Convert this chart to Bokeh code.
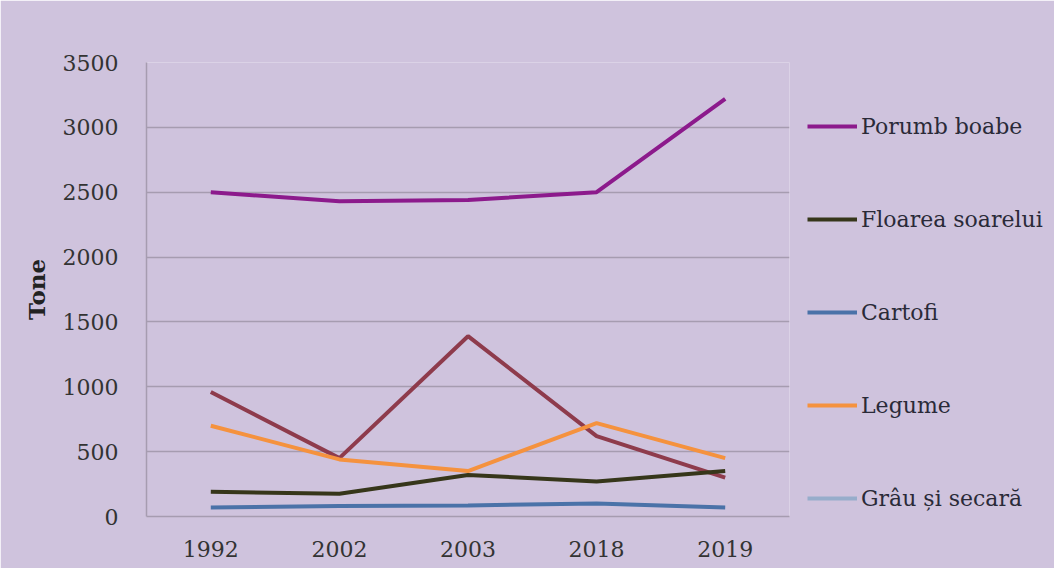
from bokeh.plotting import figure
from bokeh.models import FactorRange, Range1d, Legend, LegendItem
from bokeh.embed import file_html
from bokeh.resources import INLINE

NaN = float("nan")

# ---- data ----
years = ["1992", "2002", "2003", "2018", "2019"]
porumb_boabe = [2500, 2430, 2440, 2500, 3220]
floarea_soarelui = [190, 175, 320, 270, 350]
cartofi = [70, 80, 85, 100, 70]
legume = [700, 440, 350, 720, 450]
grau_si_secara = [NaN, NaN, NaN, NaN, NaN]  # no visible line in the chart
serie_fara_legenda = [960, 450, 1390, 620, 300]
y_ticks = [0, 500, 1000, 1500, 2000, 2500, 3000, 3500]

BG = "#CFC3DD"
GRID = "#A69CB0"
FONT = "DejaVu Serif"

p = figure(frame_width=643, frame_height=454,
           x_range=FactorRange(*years, range_padding=0),
           y_range=Range1d(0, 3500),
           output_backend="svg", toolbar_location=None,
           min_border_left=146, min_border_right=250,
           min_border_top=62, min_border_bottom=52,
           background_fill_color=BG, border_fill_color=BG)
p.outline_line_color = None

# grid
p.xgrid.grid_line_color = None
p.ygrid.grid_line_color = GRID
p.ygrid.grid_line_width = 1.5
p.yaxis.ticker = y_ticks

for ax in (p.xaxis[0], p.yaxis[0]):
    ax.axis_line_color = GRID
    ax.axis_line_width = 1.5
    ax.major_tick_line_color = None
    ax.major_tick_out = 0
    ax.major_tick_in = 0
    ax.minor_tick_line_color = None
    ax.minor_tick_out = 0
    ax.major_label_text_font = FONT
    ax.major_label_text_font_size = "22px"
    ax.major_label_text_color = "#333333"

p.yaxis.major_label_standoff = 28
p.xaxis.major_label_standoff = 24
p.yaxis.axis_label = "Tone"
p.yaxis.axis_label_text_font = FONT
p.yaxis.axis_label_text_font_size = "23px"
p.yaxis.axis_label_text_font_style = "bold"
p.yaxis.axis_label_text_color = "#222222"
p.yaxis.axis_label_standoff = 10

LW = 4
r_red = p.line(years, serie_fara_legenda, line_color="#8E3B4C", line_width=LW)
r_porumb = p.line(years, porumb_boabe, line_color="#8C1A8C", line_width=LW)
r_floarea = p.line(years, floarea_soarelui, line_color="#36361A", line_width=LW)
r_cartofi = p.line(years, cartofi, line_color="#4A72A8", line_width=LW)
r_legume = p.line(years, legume, line_color="#F5923E", line_width=LW)
r_grau = p.line(years, grau_si_secara, line_color="#97ADCB", line_width=LW)

legend = Legend(items=[
    LegendItem(label="Porumb boabe", renderers=[r_porumb]),
    LegendItem(label="Floarea soarelui", renderers=[r_floarea]),
    LegendItem(label="Cartofi", renderers=[r_cartofi]),
    LegendItem(label="Legume", renderers=[r_legume]),
    LegendItem(label="Grâu și secară", renderers=[r_grau]),
], location=(18, 3))
legend.background_fill_alpha = 0
legend.border_line_color = None
legend.padding = 0
legend.margin = 0
legend.glyph_width = 50
legend.glyph_height = 30
legend.label_height = 30
legend.spacing = 63
legend.label_standoff = 4
legend.label_text_font = FONT
legend.label_text_font_size = "22px"
legend.label_text_color = "#2A2A38"
p.add_layout(legend, "right")

open("out.html", "w").write(file_html(p, INLINE))
